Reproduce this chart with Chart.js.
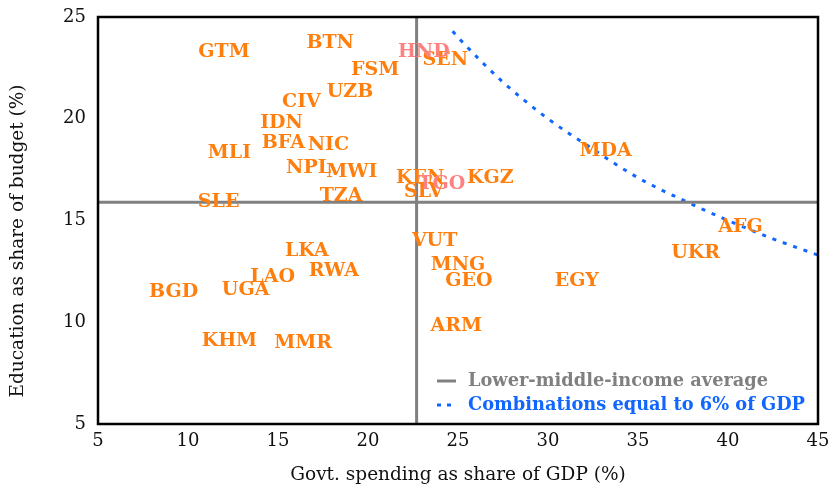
<!DOCTYPE html>
<html>
<head>
<meta charset="utf-8">
<script src="https://cdn.jsdelivr.net/npm/chart.js@4.4.0/dist/chart.umd.min.js"></script>
<style>
html,body{margin:0;padding:0;background:#fff;}
#wrap{width:833px;height:490px;position:relative;}
</style>
</head>
<body>
<div id="wrap"><canvas id="c" width="833" height="490"></canvas></div>
<script>
// Country codes and values (govt spending % GDP, education % of budget)
const codes = ["GTM","BTN","FSM","UZB","CIV","IDN","BFA","NIC","MLI","NPL","MWI","KEN","KGZ","SLV","TZA","SLE","MDA","AFG","UKR","VUT","LKA","LAO","RWA","MNG","GEO","EGY","BGD","UGA","ARM","KHM","MMR","SEN"];
const govSpend = [12.0,17.9,20.4,19.0,16.3,15.2,15.3,17.8,12.3,16.7,19.1,22.9,26.8,23.1,18.5,11.7,33.2,40.7,38.2,23.7,16.6,14.7,18.1,25.0,25.6,31.6,9.2,13.2,24.9,12.3,16.4,24.3];
const eduShare = [23.3,23.7,22.4,21.3,20.8,19.8,18.8,18.7,18.3,17.6,17.4,17.1,17.1,16.4,16.2,15.9,18.4,14.7,13.4,14.0,13.5,12.2,12.5,12.8,12.0,12.0,11.5,11.6,9.8,9.1,9.0,22.9];
// Highlighted countries (drawn in light red)
const hlCodes = ["HND","TGO"];
const hlGovSpend = [23.1,24.1];
const hlEduShare = [23.3,16.8];
// Lower-middle-income averages
const avgGovSpend = 22.7;
const avgEduShare = 15.9;
// Combinations equal to 6% of GDP
const comboX = [24.7,25,27.5,30,32.5,35,37.5,40,42.5,45];
const comboY = [24.3,24.0,21.8,20.0,18.5,17.1,16.0,15.0,14.1,13.3];
// Axis ticks
const xTicks = [5,10,15,20,25,30,35,40,45];
const yTicks = [5,10,15,20,25];

const ORANGE = "#ff7f0e";
const PINK = "#ff8080";
const GRAY = "#808080";
const BLUE = "#1166ff";
const SERIF = "'DejaVu Serif', 'Liberation Serif', serif";

const labelPlugin = {
  id: "labels",
  afterDatasetsDraw(chart) {
    const ctx = chart.ctx;
    const xs = chart.scales.x, ys = chart.scales.y;
    const a = chart.chartArea;
    ctx.save();
    ctx.beginPath();
    ctx.rect(a.left, a.top, a.right - a.left, a.bottom - a.top);
    ctx.clip();
    ctx.font = "bold 19px " + SERIF;
    ctx.textAlign = "center";
    ctx.textBaseline = "middle";
    ctx.fillStyle = ORANGE;
    codes.forEach((c, i) => {
      ctx.fillText(c, xs.getPixelForValue(govSpend[i]), ys.getPixelForValue(eduShare[i]));
    });
    ctx.fillStyle = PINK;
    hlCodes.forEach((c, i) => {
      ctx.fillText(c, xs.getPixelForValue(hlGovSpend[i]), ys.getPixelForValue(hlEduShare[i]));
    });
    ctx.restore();

    // legend
    ctx.save();
    const lx = 437, ly1 = 381, ly2 = 405;
    ctx.lineWidth = 3;
    ctx.strokeStyle = GRAY;
    ctx.beginPath(); ctx.moveTo(lx, ly1); ctx.lineTo(lx + 19, ly1); ctx.stroke();
    ctx.strokeStyle = BLUE;
    ctx.setLineDash([4, 6]);
    ctx.beginPath(); ctx.moveTo(lx, ly2); ctx.lineTo(lx + 19, ly2); ctx.stroke();
    ctx.setLineDash([]);
    ctx.font = "bold 17.8px " + SERIF;
    ctx.textAlign = "left";
    ctx.textBaseline = "middle";
    ctx.fillStyle = GRAY;
    ctx.fillText("Lower-middle-income average", 468, ly1);
    ctx.fillStyle = BLUE;
    ctx.fillText("Combinations equal to 6% of GDP", 468, ly2);
    // frame
    ctx.strokeStyle = "#000";
    ctx.lineWidth = 2.5;
    ctx.strokeRect(a.left, a.top, a.right - a.left, a.bottom - a.top);
    // y-axis title
    ctx.translate(18, 241);
    ctx.rotate(-Math.PI / 2);
    ctx.font = "18.5px " + SERIF;
    ctx.fillStyle = "#111";
    ctx.textAlign = "center";
    ctx.fillText("Education as share of budget (%)", 0, 0);
    ctx.restore();
  }
};

new Chart(document.getElementById("c"), {
  type: "scatter",
  data: {
    datasets: [
      { label: "avgV", type: "line", data: [{x: avgGovSpend, y: 5}, {x: avgGovSpend, y: 25}], borderColor: GRAY, borderWidth: 3, pointRadius: 0 },
      { label: "avgH", type: "line", data: [{x: 5, y: avgEduShare}, {x: 45, y: avgEduShare}], borderColor: GRAY, borderWidth: 3, pointRadius: 0 },
      { label: "combo", type: "line", data: comboX.map((x, i) => ({x, y: comboY[i]})), borderColor: BLUE, borderWidth: 3, borderDash: [4, 7], pointRadius: 0, cubicInterpolationMode: "monotone" },
      { label: "countries", data: govSpend.map((x, i) => ({x, y: eduShare[i]})), pointRadius: 0 },
      { label: "highlight", data: hlGovSpend.map((x, i) => ({x, y: hlEduShare[i]})), pointRadius: 0 }
    ]
  },
  options: {
    responsive: false,
    animation: false,
    devicePixelRatio: 1,
    layout: { padding: { top: 17, right: 15, left: 0, bottom: 0 } },
    plugins: { legend: { display: false }, tooltip: { enabled: false } },
    scales: {
      x: {
        type: "linear", min: 5, max: 45,
        afterBuildTicks: s => { s.ticks = xTicks.map(v => ({value: v})); },
        afterFit: s => { s.height = 66; s.paddingRight = 0; s.paddingLeft = 0; },
        grid: { display: false, drawTicks: false },
        border: { display: false },
        ticks: { color: "#111", font: { family: SERIF, size: 18 }, padding: 7 },
        title: { display: true, text: "Govt. spending as share of GDP (%)", color: "#111", font: { family: SERIF, size: 18.5 }, padding: { top: 5 } }
      },
      y: {
        type: "linear", min: 5, max: 25,
        afterBuildTicks: s => { s.ticks = yTicks.map(v => ({value: v})); },
        afterFit: s => { s.width = 98; s.paddingTop = 0; s.paddingBottom = 0; },
        grid: { display: false, drawTicks: false },
        border: { display: false },
        ticks: { color: "#111", font: { family: SERIF, size: 18 }, padding: 12 },
        title: { display: false }
      }
    }
  },
  plugins: [labelPlugin]
});
</script>
</body>
</html>
